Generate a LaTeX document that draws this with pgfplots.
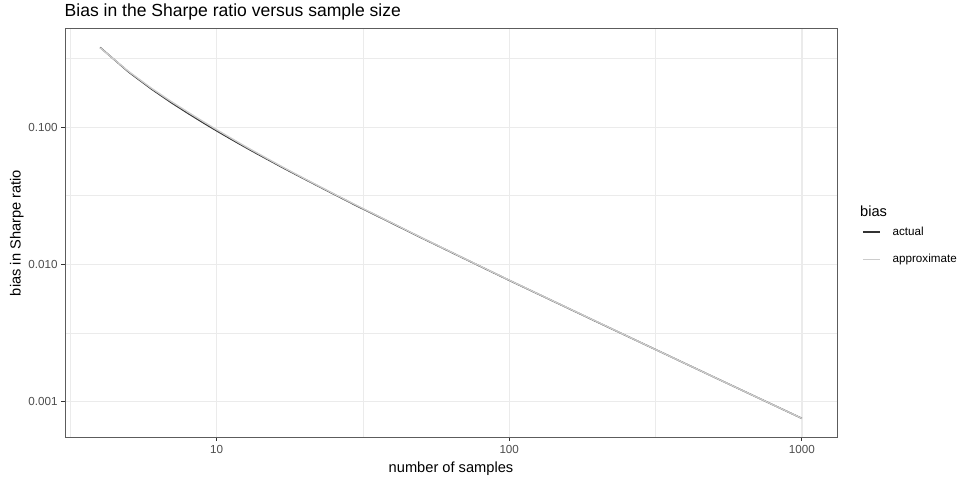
\documentclass[border=0pt]{standalone}
\usepackage{fontspec}
\setmainfont{Liberation Sans}
\usepackage{pgfplots}
\usepackage{pgfplotstable}
\pgfplotsset{compat=1.18}
\definecolor{gridcol}{HTML}{EBEBEB}
\definecolor{g20}{HTML}{333333}
\definecolor{border}{HTML}{5C5C5C}
\definecolor{g30}{HTML}{4D4D4D}
\definecolor{g80}{HTML}{CCCCCC}
\pgfplotstableread{
n bias
4 0.3820
5 0.2533
6 0.1894
7 0.1512
8 0.1259
9 0.1078
10 0.0942
11 0.0837
12 0.0753
13 0.0684
14 0.0627
15 0.0579
17 0.0501
20 0.0418
25 0.0327
30 0.0268
40 0.0198
50 0.01564
70 0.01104
100 0.00764
150 0.00507
200 0.00379
300 0.00252
500 0.001506
700 0.001075
1000 0.000752
}\actual
\pgfplotstableread{
n bias
4 0.3800
5 0.2555
6 0.1920
7 0.1540
8 0.1285
9 0.1100
10 0.0960
11 0.0852
12 0.0765
13 0.0694
14 0.0636
15 0.0586
17 0.0506
20 0.0421
25 0.0329
30 0.0270
40 0.0199
50 0.01570
70 0.01107
100 0.00766
150 0.00508
200 0.00380
300 0.00252
500 0.001506
700 0.001075
1000 0.000752
}\approximate
\begin{document}
\begin{tikzpicture}
\useasboundingbox (0,0) rectangle (959bp,480bp);
\begin{axis}[
  at={(65bp,43bp)}, anchor=south west,
  scale only axis, width=772bp, height=408bp,
  xmode=log, ymode=log,
  xmin=3.035, xmax=1318, ymin=0.000550, ymax=0.5205,
  xtick={10,100,1000}, xticklabels={10,100,1000},
  ytick={0.001,0.01,0.1}, yticklabels={0.001,0.010,0.100},
  minor xtick={3.16228,31.6228,316.228},
  minor ytick={0.316228,0.0316228,0.00316228},
  grid=both,
  major grid style={draw=gridcol, line width=1.4bp},
  minor grid style={draw=gridcol, line width=0.7bp},
  axis line style={draw=border, line width=1bp},
  tick align=outside, xtick pos=left, ytick pos=left,
  major tick length=3.7bp, minor tick length=0pt,
  tick style={draw=g20, line width=1bp},
  ticklabel style={font=\fontsize{11.7}{14}\selectfont, text=g30, inner sep=0pt},
  xticklabel style={anchor=north, yshift=-4.3bp},
  yticklabel style={anchor=east, xshift=-3.5bp},
  legend style={draw=none, fill=none, at={(axis description cs:1.0324,0.5157)}, anchor=north west,
    inner sep=0pt, row sep=16.7bp, font=\fontsize{11.7}{14}\selectfont,
    nodes={inner sep=0pt, text height=8.4bp, text depth=2.6bp, anchor=base west},
    /tikz/every odd column/.append style={column sep=12bp}},
  legend cell align=left,
  legend image code/.code={\draw[#1] (0bp,3.3bp) -- (17bp,3.3bp);},
]
\addplot[g20, line width=1.4bp] table[x=n, y=bias] {\actual};
\addlegendentry{actual}
\addplot[g80, line width=1.4bp] table[x=n, y=bias] {\approximate};
\addlegendentry{approximate}
\end{axis}
\node[anchor=base west, inner sep=0pt, font=\fontsize{17.6}{20}\selectfont] at (64.5bp,463bp) {Bias in the Sharpe ratio versus sample size};
\node[anchor=base, inner sep=0pt, font=\fontsize{14.7}{17}\selectfont] at (451bp,8bp) {number of samples};
\node[anchor=base, rotate=90, inner sep=0pt, font=\fontsize{14.7}{17}\selectfont] at (20.7bp,247bp) {bias in Sharpe ratio};
\node[anchor=base west, inner sep=0pt, font=\fontsize{14.7}{17}\selectfont] at (860bp,263.3bp) {bias};
\end{tikzpicture}
\end{document}
